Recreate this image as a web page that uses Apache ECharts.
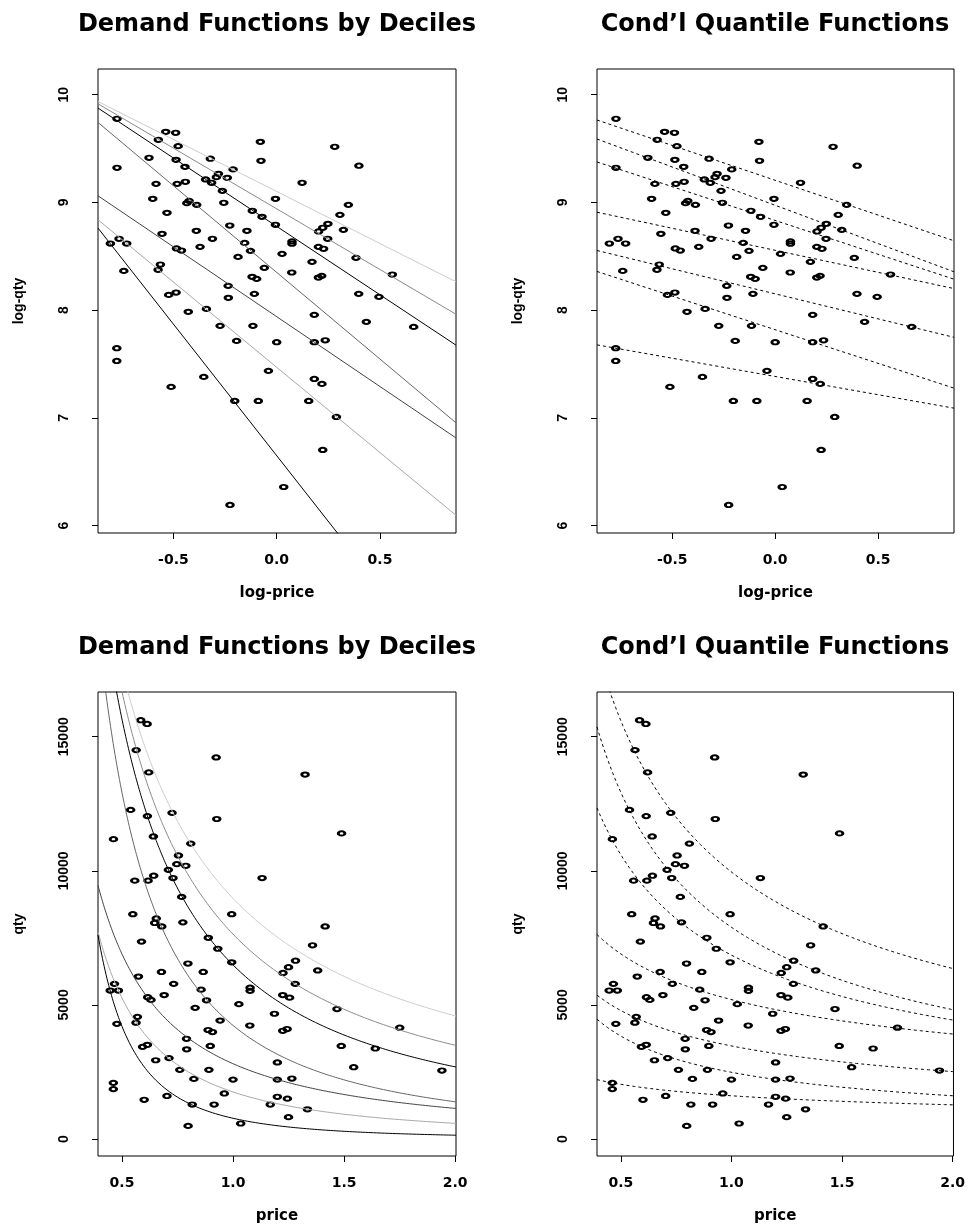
<!DOCTYPE html>
<html><head><meta charset="utf-8">
<script src="https://cdn.jsdelivr.net/npm/echarts@6/dist/echarts.min.js"></script>
<style>html,body{margin:0;padding:0;background:#fff}#c{width:968px;height:1228px}</style>
</head><body><div id="c"></div>
<script>
// Observations (log scale); bottom panels show the same points on the original scale
const logPrice = [-0.773,-0.537,-0.489,-0.573,-0.477,-0.079,0.281,-0.618,-0.487,-0.321,
  -0.076,-0.773,-0.444,0.398,-0.211,-0.282,-0.292,-0.239,-0.344,-0.315,
  -0.584,-0.482,-0.442,0.123,-0.263,-0.600,-0.006,-0.424,-0.435,-0.387,
  -0.256,0.347,-0.531,-0.118,-0.071,0.306,-0.227,-0.006,0.248,0.223,
  0.203,0.323,-0.389,-0.144,-0.555,-0.311,0.247,-0.763,-0.805,-0.726,
  -0.155,0.074,0.074,0.202,0.227,-0.485,-0.461,-0.371,-0.127,0.026,
  -0.187,0.384,0.171,-0.563,-0.574,-0.740,-0.060,0.073,-0.119,-0.097,
  0.202,0.218,0.560,-0.235,-0.523,-0.487,-0.234,-0.108,0.397,0.495,
  -0.428,-0.340,0.182,-0.274,-0.115,0.434,0.663,-0.774,-0.774,-0.194,
  0.000,0.182,0.235,-0.040,-0.353,-0.511,0.182,0.219,-0.203,-0.089,
  0.155,0.289,0.223,0.034,-0.226];
const logQty = [9.777,9.656,9.647,9.582,9.523,9.563,9.517,9.415,9.396,9.406,
  9.387,9.322,9.331,9.341,9.307,9.266,9.235,9.229,9.214,9.183,
  9.173,9.173,9.192,9.183,9.108,9.034,9.034,9.015,8.994,8.978,
  8.997,8.978,8.904,8.923,8.867,8.885,8.786,8.793,8.802,8.765,
  8.731,8.746,8.737,8.737,8.709,8.663,8.663,8.663,8.619,8.619,
  8.625,8.638,8.617,8.588,8.570,8.573,8.554,8.588,8.551,8.523,
  8.495,8.486,8.449,8.424,8.375,8.365,8.393,8.350,8.310,8.291,
  8.303,8.319,8.331,8.226,8.142,8.164,8.115,8.152,8.152,8.124,
  7.985,8.012,7.957,7.855,7.855,7.892,7.845,7.647,7.529,7.715,
  7.703,7.703,7.721,7.437,7.381,7.288,7.362,7.316,7.158,7.158,
  7.158,7.009,6.703,6.359,6.192];

// Fitted lines in log-log space: log-qty = intercept + slope * log-price
const decileIntercepts = [9.102, 8.941, 8.778, 8.351, 7.940, 7.470, 6.650];
const decileSlopes     = [-0.966, -1.127, -1.270, -1.609, -1.297, -1.583, -2.442];
const decileColors     = ['#cccccc', '#8a8a8a', '#000000', '#666666', '#444444', '#a8a8a8', '#000000'];
const quantileIntercepts = [9.206, 8.974, 8.833, 8.556, 8.152, 7.819, 7.385];
const quantileSlopes     = [-0.647, -0.711, -0.628, -0.409, -0.465, -0.625, -0.339];

// Tick labels
const logPriceTicks = [-0.5, 0, 0.5];
const logQtyTicks = [6, 7, 8, 9, 10];
const priceTicks = [0.5, 1.0, 1.5, 2.0];
const qtyTicks = [0, 5000, 10000, 15000];
const titleLeft = 'Demand Functions by Deciles';
const titleRight = 'Cond\u2019l Quantile Functions';

const LP = [-0.865, 0.868], LQ = [5.932, 10.239];
const PR = [0.392, 2.004], QT = [-634, 16668];

const grids = [
  {left: 98, top: 69, width: 358, height: 464},
  {left: 597, top: 69, width: 357, height: 464},
  {left: 98, top: 692, width: 358, height: 464},
  {left: 597, top: 692, width: 357, height: 464}
].map(g => Object.assign(g, {show: true, borderColor: '#000', borderWidth: 1, backgroundColor: 'transparent'}));

const hFont = {fontFamily: 'DejaVu Sans', fontWeight: 'bold', color: '#000'};
const vFont = {fontFamily: 'Liberation Sans', fontWeight: 'bold', color: '#000'};

function xAx(i, ext, ticks, name) {
  return {gridIndex: i, type: 'value', min: ext[0], max: ext[1], name: name,
    nameLocation: 'middle', nameGap: 53, nameTextStyle: Object.assign({fontSize: 15}, hFont),
    axisLine: {show: false, onZero: false}, splitLine: {show: false},
    axisTick: {show: true, inside: false, length: 6, customValues: ticks, lineStyle: {color: '#000', width: 1}},
    axisLabel: Object.assign({customValues: ticks, margin: 20, fontSize: 14, formatter: v => v.toFixed(1)}, hFont)};
}
function yAx(i, ext, ticks, name) {
  return {gridIndex: i, type: 'value', min: ext[0], max: ext[1], name: name,
    nameLocation: 'middle', nameGap: 72, nameTextStyle: Object.assign({fontSize: 14}, vFont),
    axisLine: {show: false, onZero: false}, splitLine: {show: false},
    axisTick: {show: true, inside: false, length: 6, customValues: ticks, lineStyle: {color: '#000', width: 1}},
    axisLabel: Object.assign({customValues: ticks, rotate: 90, margin: 27, fontSize: 14, formatter: v => String(v)}, vFont)};
}

const sym = 'path://M0,1A1,1,0,1,1,2,1A1,1,0,1,1,0,1Z';
function scatter(i, data) {
  return {type: 'scatter', xAxisIndex: i, yAxisIndex: i, data: data, symbol: sym, symbolSize: [6.6, 4.3],
    itemStyle: {color: 'rgba(0,0,0,0)', borderColor: '#000', borderWidth: 2.4, opacity: 1},
    emphasis: {disabled: true}, silent: true, clip: true, z: 2};
}
function lineSeries(i, data, color, dashed) {
  return {type: 'line', xAxisIndex: i, yAxisIndex: i, data: data, showSymbol: false, symbol: 'none',
    lineStyle: {color: color, width: 1, type: dashed ? [3, 3] : 'solid'},
    emphasis: {disabled: true}, silent: true, clip: true, z: 3};
}
function straight(a, b) { return [[LP[0], a + b * LP[0]], [LP[1], a + b * LP[1]]]; }
function curve(a, b) {
  const pts = [], N = 400;
  for (let k = 0; k <= N; k++) {
    const p = PR[0] + (PR[1] - PR[0]) * k / N;
    pts.push([p, Math.exp(a + b * Math.log(p))]);
  }
  return pts;
}

const logPts = logPrice.map((x, i) => [x, logQty[i]]);
const rawPts = logPrice.map((x, i) => [Math.exp(x), Math.exp(logQty[i])]);

const series = [scatter(0, logPts), scatter(1, logPts), scatter(2, rawPts), scatter(3, rawPts)];
decileIntercepts.forEach((a, k) => {
  series.push(lineSeries(0, straight(a, decileSlopes[k]), decileColors[k], false));
  series.push(lineSeries(2, curve(a, decileSlopes[k]), decileColors[k], false));
});
quantileIntercepts.forEach((a, k) => {
  series.push(lineSeries(1, straight(a, quantileSlopes[k]), '#000', true));
  series.push(lineSeries(3, curve(a, quantileSlopes[k]), '#000', true));
});

const tStyle = Object.assign({fontSize: 24}, hFont);
const option = {
  animation: false,
  backgroundColor: '#fff',
  title: [
    {text: titleLeft, left: 277, top: 13, textAlign: 'center', padding: 0, textStyle: tStyle},
    {text: titleRight, left: 775, top: 13, textAlign: 'center', padding: 0, textStyle: tStyle},
    {text: titleLeft, left: 277, top: 636, textAlign: 'center', padding: 0, textStyle: tStyle},
    {text: titleRight, left: 775, top: 636, textAlign: 'center', padding: 0, textStyle: tStyle}
  ],
  grid: grids,
  xAxis: [xAx(0, LP, logPriceTicks, 'log-price'), xAx(1, LP, logPriceTicks, 'log-price'),
          xAx(2, PR, priceTicks, 'price'), xAx(3, PR, priceTicks, 'price')],
  yAxis: [yAx(0, LQ, logQtyTicks, 'log-qty'), yAx(1, LQ, logQtyTicks, 'log-qty'),
          yAx(2, QT, qtyTicks, 'qty'), yAx(3, QT, qtyTicks, 'qty')],
  series: series
};
const chart = echarts.init(document.getElementById('c'), null, {renderer: 'canvas'});
chart.setOption(option);
</script></body></html>
